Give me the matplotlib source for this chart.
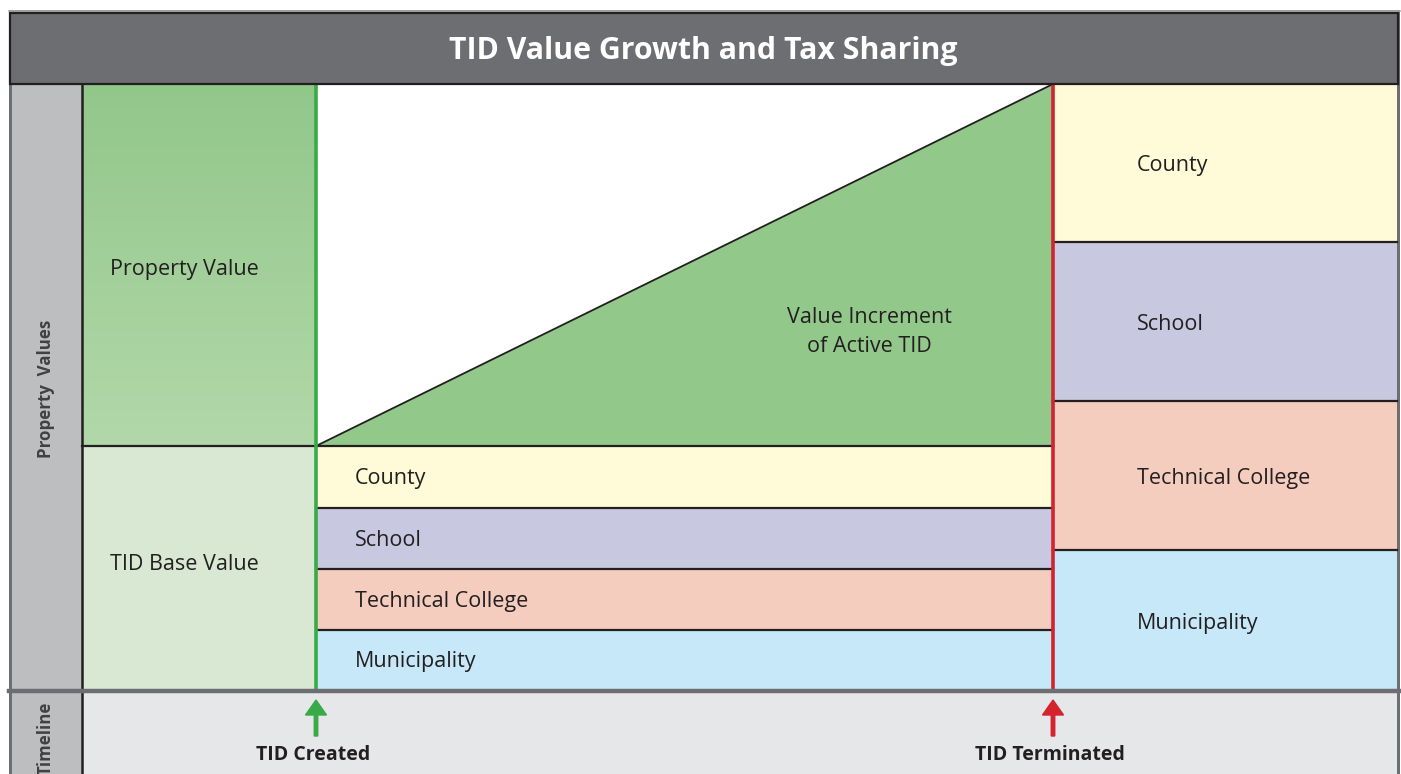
import matplotlib.pyplot as plt
import matplotlib.patches as mpatches
import numpy as np
from matplotlib.colors import LinearSegmentedColormap

plt.rcParams['font.family'] = ['Open Sans', 'DejaVu Sans']

# --- data ---
title = 'TID Value Growth and Tax Sharing'
jurisdictions = ['County', 'School', 'Technical College', 'Municipality']
base_shares = [62, 61, 61, 60]          # share of base value (during TID)
full_shares = [158, 159, 149, 140]      # share of full value (after TID)
base_value = 244
full_value = 606
events = ['TID Created', 'TID Terminated']

# --- styles ---
band_colors = ['#fffad7', '#c8c8e0', '#f4cdbf', '#c6e8f8']
green = '#3aaa48'
red = '#d2232f'
dark_gray = '#6d6e71'
side_gray = '#bcbec0'
ink = '#231f20'
fs = 15.5

fig = plt.figure(figsize=(14.01, 7.74), dpi=100)
ax = fig.add_axes([0, 0, 1, 1])
ax.set_xlim(0, 1401)
ax.set_ylim(774, 0)
ax.axis('off')

bottom = 690          # y of value baseline
x_left, x_side = 9, 82
x_created, x_term, x_right = 316, 1053, 1397
top = bottom - full_value
base_top = bottom - base_value

# outer background
ax.add_patch(mpatches.Rectangle((x_left, 10), x_right + 3 - x_left, 780,
                                facecolor=dark_gray, edgecolor='none'))
ax.add_patch(mpatches.Rectangle((x_left + 3, top), x_right - x_left - 3, 780,
                                facecolor=side_gray, edgecolor='none'))
# timeline strip
ax.add_patch(mpatches.Rectangle((x_side, bottom), x_right - x_side, 100,
                                facecolor='#e6e7e8', edgecolor='none'))

# left column: property value gradient + base value
cmap = LinearSegmentedColormap.from_list('g', ['#92c78a', '#b2d8a9'])
ax.imshow(np.linspace(0, 1, 200).reshape(-1, 1), cmap=cmap, aspect='auto',
          extent=[x_side, x_created, base_top, top], zorder=1)
ax.add_patch(mpatches.Rectangle((x_side, base_top), x_created - x_side, base_value,
                                facecolor='#d8e8d2', edgecolor='none', zorder=1))
ax.plot([x_side, x_created], [base_top, base_top], color=ink, lw=1.6, zorder=3)

# white area and triangle of increment
ax.add_patch(mpatches.Rectangle((x_created, top), x_term - x_created, full_value - base_value,
                                facecolor='white', edgecolor='none', zorder=1))
ax.add_patch(mpatches.Polygon([(x_created, base_top), (x_term, top), (x_term, base_top)],
                              closed=True, facecolor='#93c88b', edgecolor='none', zorder=2))
ax.plot([x_created, x_term], [base_top, top], color=ink, lw=1.3, zorder=3)

# middle bands (base value split)
scale = base_value / sum(base_shares)
y = base_top
for name, share, col in zip(jurisdictions, base_shares, band_colors):
    h = share * scale
    ax.add_patch(mpatches.Rectangle((x_created, y), x_term - x_created, h,
                                    facecolor=col, edgecolor='none', zorder=1))
    ax.plot([x_created, x_term], [y, y], color=ink, lw=1.6, zorder=3)
    ax.text(355, y + h / 2 + 1.5, name, fontsize=fs, color=ink,
            ha='left', va='center', zorder=4)
    y += h

# right bands (full value split)
scale = full_value / sum(full_shares)
y = top
for i, (name, share, col) in enumerate(zip(jurisdictions, full_shares, band_colors)):
    h = share * scale
    ax.add_patch(mpatches.Rectangle((x_term, y), x_right - x_term, h,
                                    facecolor=col, edgecolor='none', zorder=1))
    if i > 0:
        ax.plot([x_term, x_right], [y, y], color=ink, lw=1.6, zorder=3)
    ax.text(1137, y + h / 2 + 3, name, fontsize=fs, color=ink,
            ha='left', va='center', zorder=4)
    y += h

# vertical event lines
ax.plot([x_created, x_created], [top, bottom], color=green, lw=2.6, zorder=5)
ax.plot([x_term, x_term], [top, bottom], color=red, lw=2.6, zorder=5)

# left black divider and baseline
ax.plot([x_side, x_side], [top, 790], color=ink, lw=1.8, zorder=5)
ax.plot([x_left, x_right + 3], [bottom + 1, bottom + 1], color=dark_gray, lw=3.2, zorder=6)

# title bar
ax.add_patch(mpatches.Rectangle((x_left + 1, 13), x_right - x_left, top - 13,
                                facecolor=dark_gray, edgecolor=ink, lw=1.6, zorder=6))
ax.plot([x_left, x_right + 3], [10.5, 10.5], color='#a7a9ac', lw=1.2, zorder=6)
ax.text((x_left + x_right) / 2, 51, title, fontsize=21.8, fontweight='bold',
        color='white', ha='center', va='center', zorder=7)

# labels
ax.text(110, 270, 'Property Value', fontsize=fs, color=ink, ha='left', va='center')
ax.text(110, 564, 'TID Base Value', fontsize=fs, color=ink, ha='left', va='center')
ax.text(869, 332, 'Value Increment\nof Active TID', fontsize=fs, color=ink,
        ha='center', va='center', linespacing=1.45, zorder=4)
ax.text(46, 389, 'Property  Values', fontsize=12.2, fontweight='bold', color='#414042',
        rotation=90, ha='center', va='center', zorder=4)
ax.text(46, 738, 'Timeline', fontsize=12.2, fontweight='bold', color='#414042',
        rotation=90, ha='center', va='center', zorder=4)

# timeline arrows and labels
for name, x, col in zip(events, [x_created, x_term], [green, red]):
    ax.arrow(x, 736, 0, -36, width=3.5, head_width=21, head_length=15,
             length_includes_head=True, color=col, zorder=7)
    ax.text(x - 3, 755, name, fontsize=14, fontweight='bold', color=ink,
            ha='center', va='center', zorder=7)

fig.savefig('out.png', dpi=100)
